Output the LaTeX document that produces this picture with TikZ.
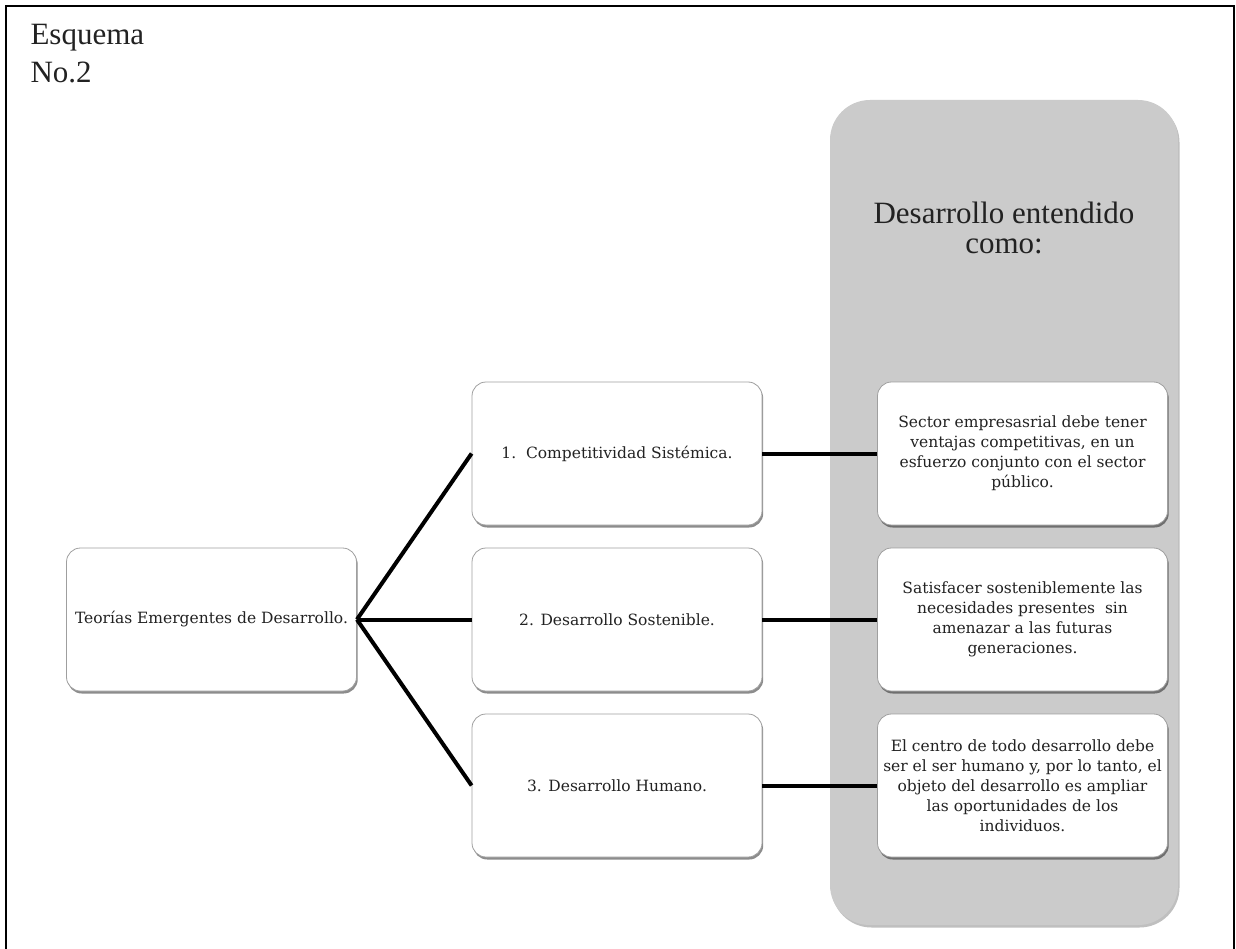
\documentclass[tikz,border=0pt]{standalone}
\usepackage{fontspec}
\newfontfamily\boxfont{DejaVu Serif}
\newfontfamily\headfont{Liberation Serif}
\usetikzlibrary{shadows}
\definecolor{panelgray}{HTML}{CBCBCB}
\definecolor{inkgray}{HTML}{222222}
\begin{document}
\begin{tikzpicture}[x=1pt,y=-1pt,
  card/.style={draw=gray!75, line width=0.8pt, fill=white, rounded corners=14pt,
    minimum width=290pt, minimum height=143pt, align=center, text=inkgray,
    font=\boxfont\fontsize{15.5}{20}\selectfont,
    drop shadow={shadow xshift=1.2pt, shadow yshift=-2.5pt, opacity=0.45, fill=black}},
  panel/.style={fill=panelgray, draw=none, rounded corners=40pt,
    minimum width=348pt, minimum height=825pt,
    drop shadow={shadow xshift=1.5pt, shadow yshift=-2.5pt, opacity=0.25, fill=black}},
  heading/.style={font=\headfont\fontsize{31}{30}\selectfont, text=inkgray, align=center},
  link/.style={line width=4pt, black}]
\useasboundingbox (0,0) rectangle (1236,949);
\draw[line width=2pt] (5.5,949) -- (5.5,6) -- (1234,6) -- (1234,949);
\node[heading, anchor=base west] (t1) at (27,45) {Esquema};
\node[heading, anchor=base west] (t2) at (27,83) {No.2};
\node[panel] (panel) at (1004,512.5) {};
\node[heading] (head) at (1004,228) {Desarrollo entendido\\como:};
\node[card] (root) at (211.5,619.5) {Teorías Emergentes de Desarrollo.};
\node[card] (b1) at (617,453.5) {1.\ \ Competitividad Sistémica.};
\node[card] (b2) at (617,619.5) {2. Desarrollo Sostenible.};
\node[card] (b3) at (617,785.5) {3. Desarrollo Humano.};
\node[card] (r1) at (1022.5,453.5) {Sector empresasrial debe tener\\ventajas competitivas, en un\\esfuerzo conjunto con el sector\\público.};
\node[card] (r2) at (1022.5,619.5) {Satisfacer sosteniblemente las\\necesidades presentes\ \ sin\\amenazar a las futuras\\generaciones.};
\node[card] (r3) at (1022.5,785.5) {El centro de todo desarrollo debe\\ser el ser humano y, por lo tanto, el\\objeto del desarrollo es ampliar\\las oportunidades de los\\individuos.};
\draw[link] (root.east) -- (b1.west);
\draw[link] (root.east) -- (b2.west);
\draw[link] (root.east) -- (b3.west);
\draw[link] (b1.east) -- (r1.west);
\draw[link] (b2.east) -- (r2.west);
\draw[link] (b3.east) -- (r3.west);
\end{tikzpicture}
\end{document}
